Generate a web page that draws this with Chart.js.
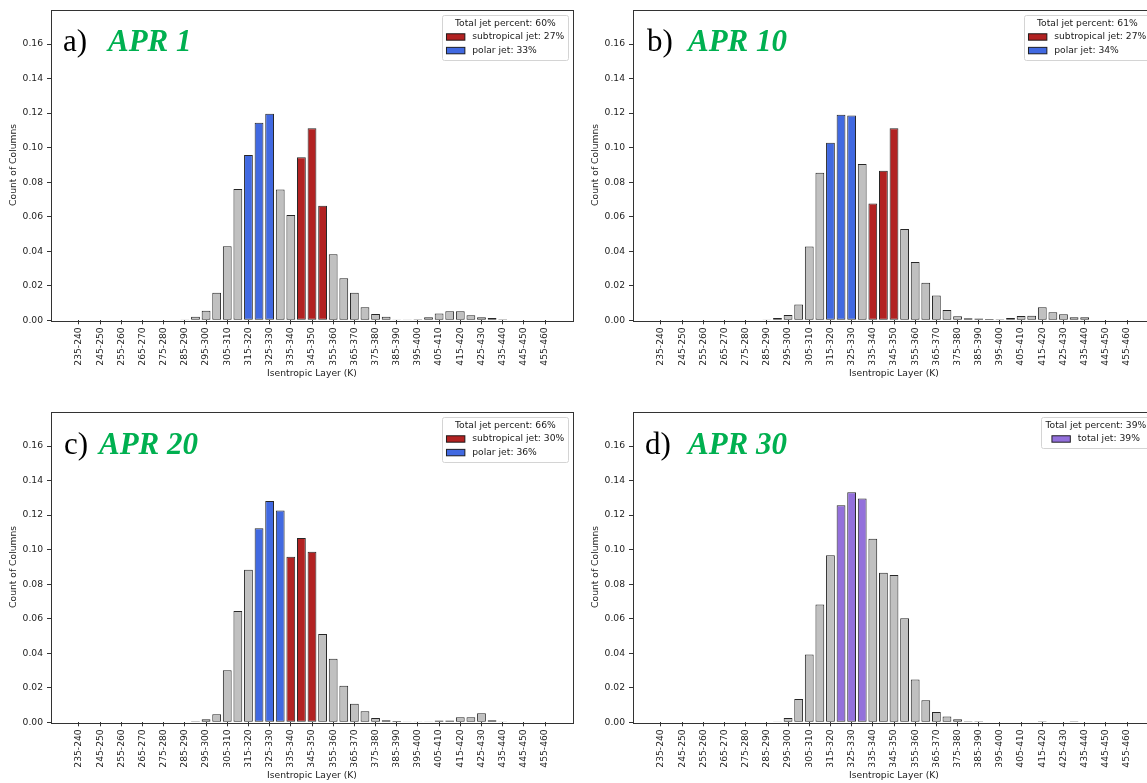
<!DOCTYPE html>
<html>
<head>
<meta charset="utf-8">
<script src="https://cdn.jsdelivr.net/npm/chart.js@4"></script>
<style>
  html, body { margin: 0; padding: 0; background: #fff; overflow: hidden; }
  body { width: 1147px; height: 783px; position: relative; }
  canvas { position: absolute; }
</style>
</head>
<body>
<canvas id="panelA" width="580" height="390" style="left:0px;top:0px"></canvas>
<canvas id="panelB" width="580" height="390" style="left:582px;top:0px"></canvas>
<canvas id="panelC" width="580" height="390" style="left:0px;top:401.5px"></canvas>
<canvas id="panelD" width="580" height="390" style="left:582px;top:401.5px"></canvas>
<script>
// isentropic layers (5 K bins)
const layers = ['235-240','240-245','245-250','250-255','255-260','260-265','265-270','270-275','275-280',
  '280-285','285-290','290-295','295-300','300-305','305-310','310-315','315-320','320-325','325-330',
  '330-335','335-340','340-345','345-350','350-355','355-360','360-365','365-370','370-375','375-380',
  '380-385','385-390','390-395','395-400','400-405','405-410','410-415','415-420','420-425','425-430',
  '430-435','435-440','440-445','445-450','450-455','455-460'];

// labelled ticks (every other bin)
const tickLabels = ['235-240','245-250','255-260','265-270','275-280','285-290','295-300','305-310',
  '315-320','325-330','335-340','345-350','355-360','365-370','375-380','385-390','395-400','405-410',
  '415-420','425-430','435-440','445-450','455-460'];

const yTicks = [0, 0.02, 0.04, 0.06, 0.08, 0.10, 0.12, 0.14, 0.16];

// fraction of columns per layer
const apr1 = [0,0,0,0,0,0,0,0,0,0.0003,0.0005,0.002,0.0056,0.016,0.0429,0.076,0.0957,0.1144,0.1196,
  0.0757,0.061,0.0945,0.1113,0.0664,0.0383,0.0243,0.016,0.0075,0.0037,0.0021,0.0005,0.0004,0.0006,
  0.0017,0.0039,0.0052,0.0052,0.0029,0.0017,0.0013,0.0006,0,0,0,0];
const apr10 = [0,0,0,0,0,0,0,0,0,0,0.0005,0.0013,0.003,0.0092,0.0427,0.0855,0.1028,0.119,0.1186,
  0.0905,0.0676,0.0866,0.1113,0.0529,0.0337,0.0218,0.0144,0.006,0.0023,0.0012,0.0011,0.0007,0.0006,
  0.0013,0.0025,0.0026,0.0075,0.0046,0.0035,0.0018,0.0018,0.0003,0,0,0];
const apr20 = [0,0,0,0,0,0,0,0,0,0,0,0.0006,0.0017,0.0046,0.0302,0.0645,0.0884,0.1124,0.1282,
  0.1226,0.0959,0.1067,0.0988,0.0512,0.0368,0.0212,0.0108,0.0064,0.0025,0.0012,0.0008,0.0004,0.0004,
  0.0004,0.001,0.001,0.0029,0.0029,0.0052,0.0012,0.0004,0,0,0,0];
const apr30 = [0,0,0,0,0,0,0,0,0,0,0,0.0005,0.0025,0.0135,0.0393,0.0683,0.0968,0.1257,0.1332,
  0.1296,0.1063,0.0866,0.0853,0.0603,0.0248,0.0127,0.006,0.0033,0.0017,0.0006,0.0006,0.0003,0.0003,
  0.0003,0.0003,0.0003,0.0006,0.0003,0.0003,0.0006,0,0,0,0,0];

// jet layers per date
const apr1Subtropical = ['340-345','345-350','350-355'];
const apr1Polar = ['315-320','320-325','325-330'];
const apr10Subtropical = ['335-340','340-345','345-350'];
const apr10Polar = ['315-320','320-325','325-330'];
const apr20Subtropical = ['335-340','340-345','345-350'];
const apr20Polar = ['320-325','325-330','330-335'];
const apr30Total = ['320-325','325-330','330-335'];

const GRAY = '#c0c0c0', RED = '#b22222', BLUE = '#4169e1', PURPLE = '#9370db';
const EDGE = 'rgba(15,15,15,0.9)';
const FONT = 'DejaVu Sans';
const FS = 9.2;

const frame = {
  id: 'frame',
  afterDraw(chart) {
    const { ctx, chartArea: a } = chart;
    ctx.save();
    ctx.strokeStyle = '#333';
    ctx.lineWidth = 1;
    ctx.strokeRect(Math.round(a.left) + 0.5, Math.round(a.top) + 0.5,
      Math.round(a.right - a.left), Math.round(a.bottom - a.top));
    ctx.restore();
  }
};

const jetLegend = {
  id: 'jetLegend',
  afterDraw(chart, args, opts) {
    const { ctx, chartArea: a } = chart;
    ctx.save();
    ctx.font = FS + 'px "' + FONT + '"';
    const titleW = ctx.measureText(opts.title).width;
    const hl = 2 * FS, hp = 0.8 * FS;
    const rowW = hl + hp + Math.max(...opts.items.map(it => ctx.measureText(it.text).width));
    const inner = Math.max(titleW, rowW);
    const pad = 0.45 * FS;
    const rowH = 13.6;
    const w = inner + 2 * pad;
    const h = (opts.items.length + 1) * rowH + 4;
    const x = a.right - 0.5 * FS - w;
    const y = a.top + 0.55 * FS;
    ctx.fillStyle = 'rgba(255,255,255,0.85)';
    ctx.strokeStyle = '#d4d4d4';
    ctx.beginPath();
    ctx.roundRect(Math.round(x) + 0.5, Math.round(y) + 0.5, Math.round(w), Math.round(h), 2);
    ctx.fill();
    ctx.stroke();
    ctx.fillStyle = '#1a1a1a';
    ctx.textBaseline = 'middle';
    ctx.textAlign = 'center';
    ctx.fillText(opts.title, x + w / 2, y + 2 + rowH / 2);
    ctx.textAlign = 'left';
    const rx = x + pad + (inner - rowW) / 2;
    opts.items.forEach((it, k) => {
      const cy = y + 2 + rowH * (k + 1.5);
      ctx.fillStyle = it.color;
      ctx.fillRect(rx, cy - 0.35 * FS, hl, 0.7 * FS);
      ctx.strokeStyle = EDGE;
      ctx.strokeRect(rx, cy - 0.35 * FS, hl, 0.7 * FS);
      ctx.fillStyle = '#1a1a1a';
      ctx.fillText(it.text, rx + hl + hp, cy);
    });
    ctx.restore();
  }
};

const panelTag = {
  id: 'panelTag',
  afterDraw(chart, args, opts) {
    const { ctx } = chart;
    ctx.save();
    ctx.textBaseline = 'alphabetic';
    ctx.textAlign = 'left';
    ctx.fillStyle = '#000';
    ctx.font = '31px "Liberation Serif"';
    ctx.fillText(opts.letter, opts.letterX, opts.baseline);
    ctx.fillStyle = '#00b050';
    ctx.font = 'italic bold 31px "Liberation Serif"';
    ctx.fillText(opts.date, opts.dateX, opts.baseline);
    ctx.restore();
  }
};

function barColors(values, groups) {
  return values.map((v, i) => {
    const g = groups.find(gr => gr.bins.includes(layers[i]));
    return g ? g.color : GRAY;
  });
}

function makeChart(id, values, groups, legendTitle, legendItems, tag) {
  const ctx = document.getElementById(id).getContext('2d');
  return new Chart(ctx, {
    type: 'bar',
    data: {
      datasets: [{
        data: values.map((v, i) => ({ x: i, y: v })),
        backgroundColor: barColors(values, groups),
        borderColor: EDGE,
        borderWidth: 1,
        borderSkipped: false,
        barPercentage: 0.83,
        categoryPercentage: 1.0
      }]
    },
    options: {
      responsive: false,
      animation: false,
      devicePixelRatio: 1,
      layout: { padding: { left: 0, top: 7.5, right: 7, bottom: 0 } },
      plugins: {
        legend: { display: false },
        tooltip: { enabled: false },
        jetLegend: { title: legendTitle, items: legendItems },
        panelTag: tag
      },
      scales: {
        x: {
          type: 'linear',
          offset: false,
          min: -2.64,
          max: 46.64,
          afterBuildTicks: (axis) => { axis.ticks = tickLabels.map(l => ({ value: layers.indexOf(l) })); },
          afterFit: (scale) => { scale.height = 69.7; },
          ticks: {
            autoSkip: false,
            minRotation: 90,
            maxRotation: 90,
            padding: 3,
            color: '#222',
            font: { family: FONT, size: FS },
            callback: (v) => layers[v]
          },
          grid: { display: true, offset: false, drawOnChartArea: false, drawTicks: true, tickLength: 4, tickColor: '#333' },
          border: { display: false },
          title: {
            display: true,
            text: 'Isentropic Layer (K)',
            color: '#222',
            font: { family: FONT, size: FS, lineHeight: 1.2 },
            padding: { top: 0, bottom: 11.2 }
          }
        },
        y: {
          min: 0,
          max: 0.18,
          afterBuildTicks: (axis) => { axis.ticks = yTicks.map(v => ({ value: v })); },
          afterFit: (scale) => { scale.width = 51; },
          ticks: {
            padding: 4,
            color: '#222',
            font: { family: FONT, size: FS },
            callback: (v) => v.toFixed(2)
          },
          grid: { display: true, drawOnChartArea: false, drawTicks: true, tickLength: 4, tickColor: '#333' },
          border: { display: false },
          title: {
            display: true,
            text: 'Count of Columns',
            color: '#222',
            font: { family: FONT, size: FS, lineHeight: 1.2 },
            padding: { top: 8, bottom: 0 }
          }
        }
      }
    },
    plugins: [frame, jetLegend, panelTag]
  });
}

makeChart('panelA', apr1,
  [{ bins: apr1Subtropical, color: RED }, { bins: apr1Polar, color: BLUE }],
  'Total jet percent: 60%',
  [{ text: 'subtropical jet: 27%', color: RED }, { text: 'polar jet: 33%', color: BLUE }],
  { letter: 'a)', date: 'APR 1', letterX: 63, dateX: 108, baseline: 51 });

makeChart('panelB', apr10,
  [{ bins: apr10Subtropical, color: RED }, { bins: apr10Polar, color: BLUE }],
  'Total jet percent: 61%',
  [{ text: 'subtropical jet: 27%', color: RED }, { text: 'polar jet: 34%', color: BLUE }],
  { letter: 'b)', date: 'APR 10', letterX: 65, dateX: 106, baseline: 51 });

makeChart('panelC', apr20,
  [{ bins: apr20Subtropical, color: RED }, { bins: apr20Polar, color: BLUE }],
  'Total jet percent: 66%',
  [{ text: 'subtropical jet: 30%', color: RED }, { text: 'polar jet: 36%', color: BLUE }],
  { letter: 'c)', date: 'APR 20', letterX: 64, dateX: 99, baseline: 51.5 });

makeChart('panelD', apr30,
  [{ bins: apr30Total, color: PURPLE }],
  'Total jet percent: 39%',
  [{ text: 'total jet: 39%', color: PURPLE }],
  { letter: 'd)', date: 'APR 30', letterX: 63, dateX: 106, baseline: 51.5 });
</script>
</body>
</html>
